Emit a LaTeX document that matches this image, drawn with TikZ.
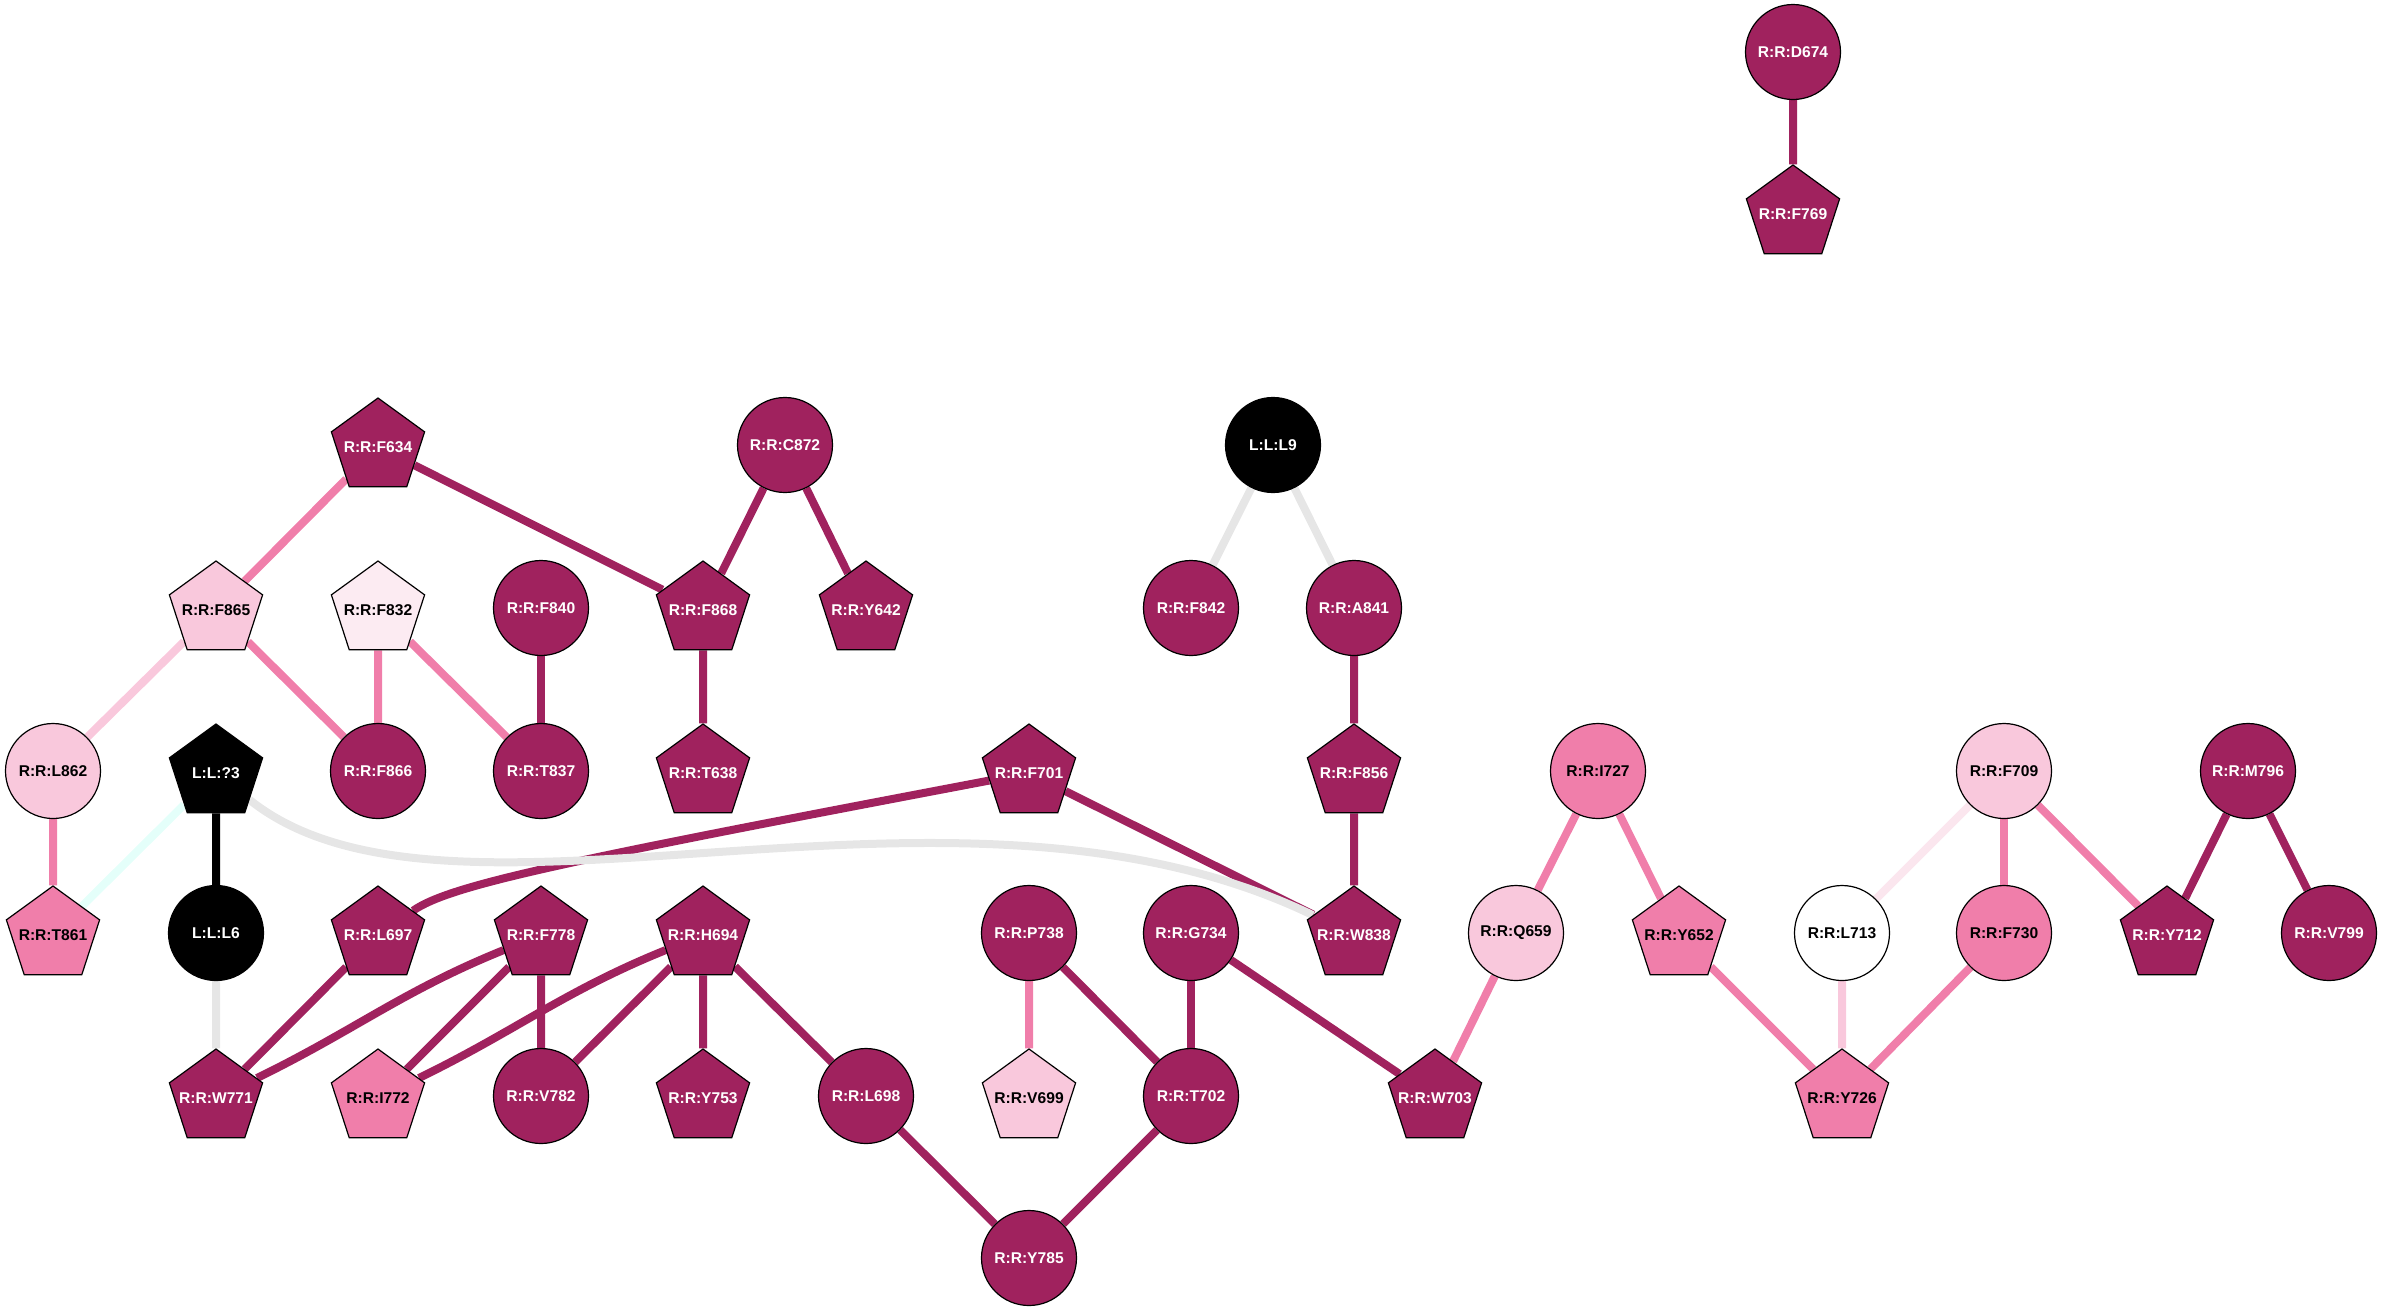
\documentclass[tikz,border=0pt]{standalone}
\usepackage{fontspec}
\setmainfont{Liberation Sans}
\usepackage{tikz}
\usetikzlibrary{shapes.geometric, backgrounds}
\definecolor{resdark}{RGB}{160,34,94}
\definecolor{resmid}{RGB}{240,126,170}
\definecolor{reslight}{RGB}{249,200,220}
\definecolor{respale}{RGB}{252,235,242}
\definecolor{edgepale}{RGB}{251,230,238}
\definecolor{edgegray}{RGB}{230,230,230}
\definecolor{edgemint}{RGB}{228,255,250}
\newcommand{\resfont}{\fontsize{7.8}{9}\selectfont\bfseries}
\tikzstyle{res} = [circle, draw=black, line width=0.6pt, minimum size=47.5pt, inner sep=0pt, font=\resfont]
\tikzstyle{pent} = [regular polygon, regular polygon sides=5, draw=black, line width=0.6pt, minimum size=49pt, inner ysep=0pt, inner xsep=-10pt, font=\resfont]
\tikzstyle{fdark} = [fill=resdark, text=white]
\tikzstyle{fblack} = [fill=black, text=white]
\tikzstyle{fmid} = [fill=resmid, text=black]
\tikzstyle{flight} = [fill=reslight, text=black]
\tikzstyle{fpale} = [fill=respale, text=black]
\tikzstyle{fwhite} = [fill=white, text=black]
\tikzstyle{edark} = [line width=4pt, draw=resdark]
\tikzstyle{emid} = [line width=4pt, draw=resmid]
\tikzstyle{elight} = [line width=4pt, draw=reslight]
\tikzstyle{epale} = [line width=4pt, draw=edgepale]
\tikzstyle{egray} = [line width=4pt, draw=edgegray]
\tikzstyle{emint} = [line width=4pt, draw=edgemint]
\tikzstyle{eblack} = [line width=4pt, draw=black]
\begin{document}
\begin{tikzpicture}[x=0.5pt, y=-0.5pt]
    \useasboundingbox (0,0) rectangle (2384,1313);

    \node[res, fdark] (R-D674) at (1793,52) {R:R:D674};
    \node[pent, fdark] (R-F769) at (1793,214) {R:R:F769};

    \node[pent, fdark] (R-F634) at (378,447) {R:R:F634};
    \node[res, fdark] (R-C872) at (785,445) {R:R:C872};
    \node[res, fblack] (L-L9) at (1273,445) {L:L:L9};

    \node[pent, flight] (R-F865) at (216,610) {R:R:F865};
    \node[pent, fpale] (R-F832) at (378,610) {R:R:F832};
    \node[res, fdark] (R-F840) at (541,608) {R:R:F840};
    \node[pent, fdark] (R-F868) at (703,610) {R:R:F868};
    \node[pent, fdark] (R-Y642) at (866,610) {R:R:Y642};
    \node[res, fdark] (R-F842) at (1191,608) {R:R:F842};
    \node[res, fdark] (R-A841) at (1354,608) {R:R:A841};

    \node[res, flight] (R-L862) at (53,771) {R:R:L862};
    \node[pent, fblack] (L-Q3) at (216,773) {L:L:?3};
    \node[res, fdark] (R-F866) at (378,771) {R:R:F866};
    \node[res, fdark] (R-T837) at (541,771) {R:R:T837};
    \node[pent, fdark] (R-T638) at (703,773) {R:R:T638};
    \node[pent, fdark] (R-F701) at (1029,773) {R:R:F701};
    \node[pent, fdark] (R-F856) at (1354,773) {R:R:F856};
    \node[res, fmid] (R-I727) at (1598,771) {R:R:I727};
    \node[res, flight] (R-F709) at (2004,771) {R:R:F709};
    \node[res, fdark] (R-M796) at (2248,771) {R:R:M796};

    \node[pent, fmid] (R-T861) at (53,935) {R:R:T861};
    \node[res, fblack] (L-L6) at (216,933) {L:L:L6};
    \node[pent, fdark] (R-L697) at (378,935) {R:R:L697};
    \node[pent, fdark] (R-F778) at (541,935) {R:R:F778};
    \node[pent, fdark] (R-H694) at (703,935) {R:R:H694};
    \node[res, fdark] (R-P738) at (1029,933) {R:R:P738};
    \node[res, fdark] (R-G734) at (1191,933) {R:R:G734};
    \node[pent, fdark] (R-W838) at (1354,935) {R:R:W838};
    \node[res, flight] (R-Q659) at (1516,933) {R:R:Q659};
    \node[pent, fmid] (R-Y652) at (1679,935) {R:R:Y652};
    \node[res, fwhite] (R-L713) at (1842,933) {R:R:L713};
    \node[res, fmid] (R-F730) at (2004,933) {R:R:F730};
    \node[pent, fdark] (R-Y712) at (2167,935) {R:R:Y712};
    \node[res, fdark] (R-V799) at (2329,933) {R:R:V799};

    \node[pent, fdark] (R-W771) at (216,1098) {R:R:W771};
    \node[pent, fmid] (R-I772) at (378,1098) {R:R:I772};
    \node[res, fdark] (R-V782) at (541,1096) {R:R:V782};
    \node[pent, fdark] (R-Y753) at (703,1098) {R:R:Y753};
    \node[res, fdark] (R-L698) at (866,1096) {R:R:L698};
    \node[pent, flight] (R-V699) at (1029,1098) {R:R:V699};
    \node[res, fdark] (R-T702) at (1191,1096) {R:R:T702};
    \node[pent, fdark] (R-W703) at (1435,1098) {R:R:W703};
    \node[pent, fmid] (R-Y726) at (1842,1098) {R:R:Y726};

    \node[res, fdark] (R-Y785) at (1029,1258) {R:R:Y785};

    % contacts go under the residues
    \begin{scope}[on background layer]
        \draw[edark] (R-D674) -- (R-F769);
        \draw[edark] (R-F634) -- (R-F868);
        \draw[edark] (R-C872) -- (R-F868);
        \draw[edark] (R-C872) -- (R-Y642);
        \draw[edark] (R-F840) -- (R-T837);
        \draw[edark] (R-F868) -- (R-T638);
        \draw[edark] (R-A841) -- (R-F856);
        \draw[edark] (R-F856) -- (R-W838);
        \draw[edark] (R-F701) .. controls (560,862) and (450,885) .. (R-L697);
        \draw[edark] (R-F701) -- (R-W838);
        \draw[edark] (R-L697) -- (R-W771);
        \draw[edark] (R-F778) to[out=202,in=26] (R-W771);
        \draw[edark] (R-F778) -- (R-I772);
        \draw[edark] (R-F778) -- (R-V782);
        \draw[edark] (R-H694) to[out=202,in=26] (R-I772);
        \draw[edark] (R-H694) -- (R-V782);
        \draw[edark] (R-H694) -- (R-Y753);
        \draw[edark] (R-H694) -- (R-L698);
        \draw[edark] (R-P738) -- (R-T702);
        \draw[edark] (R-G734) -- (R-T702);
        \draw[edark] (R-G734) -- (R-W703);
        \draw[edark] (R-L698) -- (R-Y785);
        \draw[edark] (R-T702) -- (R-Y785);
        \draw[edark] (R-M796) -- (R-Y712);
        \draw[edark] (R-M796) -- (R-V799);

        \draw[emid] (R-F634) -- (R-F865);
        \draw[emid] (R-F865) -- (R-F866);
        \draw[emid] (R-F832) -- (R-F866);
        \draw[emid] (R-F832) -- (R-T837);
        \draw[emid] (R-L862) -- (R-T861);
        \draw[emid] (R-P738) -- (R-V699);
        \draw[emid] (R-I727) -- (R-Q659);
        \draw[emid] (R-I727) -- (R-Y652);
        \draw[emid] (R-Q659) -- (R-W703);
        \draw[emid] (R-Y652) -- (R-Y726);
        \draw[emid] (R-F709) -- (R-F730);
        \draw[emid] (R-F709) -- (R-Y712);
        \draw[emid] (R-F730) -- (R-Y726);

        \draw[elight] (R-F865) -- (R-L862);
        \draw[elight] (R-L713) -- (R-Y726);
        \draw[epale] (R-F709) -- (R-L713);

        \draw[egray] (L-L9) -- (R-F842);
        \draw[egray] (L-L9) -- (R-A841);
        \draw[egray] (L-L6) -- (R-W771);
        \draw[egray] (L-Q3) .. controls (450,960) and (950,740) .. (R-W838);
        \draw[emint] (L-Q3) -- (R-T861);
        \draw[eblack] (L-Q3) -- (L-L6);
    \end{scope}
\end{tikzpicture}
\end{document}
